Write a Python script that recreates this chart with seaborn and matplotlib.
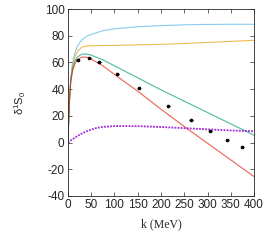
import numpy as np
import pandas as pd
import seaborn as sns
import matplotlib.pyplot as plt

# curves (k in MeV, phase shift in degrees)
k_curve = [0, 3, 6, 10, 15, 20, 30, 40, 50, 75, 100, 150, 200, 250, 300, 350, 400]
blue = [0, 30, 48, 60, 67, 72, 77, 79.5, 81, 83.8, 85.2, 86.8, 87.6, 88.2, 88.5, 88.6, 88.6]
orange = [0, 30, 47, 57, 64, 68, 71.5, 72.3, 72.5, 72.7, 72.8, 73.2, 73.6, 74.2, 75.0, 75.8, 76.6]
green = [0, 30, 46, 55, 61, 64, 66.3, 66.3, 65.5, 62, 57.5, 48.5, 39.5, 31, 22.5, 14, 5.5]
red = [0, 30, 45, 54, 59, 62, 64, 64, 62.5, 57.5, 51, 38.5, 25, 12, -0.5, -13, -25.5]

k_purple = [0, 10, 20, 30, 40, 50, 60, 75, 100, 125, 150, 200, 250, 300, 350, 400]
purple = [0, 2.5, 4.8, 6.8, 8.4, 9.8, 10.8, 11.8, 12.3, 12.4, 12.3, 11.7, 10.8, 9.9, 9.1, 8.5]

# data points
k_data = [20.8, 45.9, 66.7, 106, 152, 216, 264.5, 306, 342.6, 375]
delta_data = [61.8, 63.6, 60.1, 51.1, 40.9, 27.2, 17.2, 9.0, 2.0, -3.5]

sns.set_theme(style="ticks")
plt.rcParams["font.family"] = ["Liberation Sans", "DejaVu Sans"]
plt.rcParams["mathtext.default"] = "regular"
plt.rcParams["axes.unicode_minus"] = False

fig = plt.figure(figsize=(2.75, 2.45), dpi=100)
ax = fig.add_axes([0.247, 0.2, 0.677, 0.763])

curves = pd.DataFrame({"k": k_curve, "blue": blue, "orange": orange,
                       "green": green, "red": red})
colors = {"blue": "#56b4e9", "orange": "#e69f00", "green": "#009e73", "red": "#e51e10"}
for name, col in colors.items():
    sns.lineplot(data=curves, x="k", y=name, ax=ax, color=col, lw=0.8, alpha=0.7)

sns.lineplot(x=k_purple, y=purple, ax=ax, color="#9400d3", lw=1.3,
             linestyle=(0, (1, 0.7)), alpha=0.85)

ax.errorbar(k_data, delta_data, xerr=3.5, fmt="o", ms=1.6, color="black",
            elinewidth=0.9, capsize=0)

ax.set_xlim(0, 400)
ax.set_ylim(-40, 100)
ax.set_xticks(np.arange(0, 401, 50))
ax.set_yticks(np.arange(-40, 101, 20))
ax.tick_params(direction="in", top=True, right=True, length=3, width=0.5,
               labelsize=8.5, pad=2.5)
for s in ax.spines.values():
    s.set_linewidth(0.6)
ax.set_xlabel("k (MeV)", family="Liberation Serif", fontsize=8.5, labelpad=5)
ax.set_ylabel(r"δ$^1$S$_0$", fontsize=8, labelpad=12)

plt.savefig("out.png", dpi=100)
plt.close()
